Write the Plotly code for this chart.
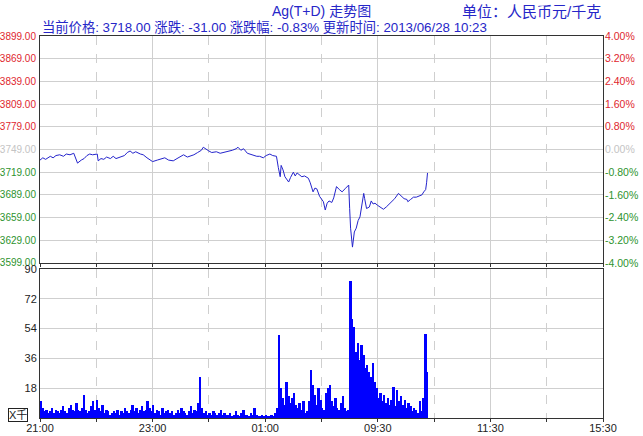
import plotly.graph_objects as go

# ---------------- data ----------------
title_text = "Ag(T+D) 走势图"
unit_text = "单位：人民币元/千克"
current_price = 3718.00
change = -31.00
change_pct = -0.83
update_time = "2013/06/28 10:23"
prev_close = 3749.0

# minutes since 21:00 in trading time (night 21:00-02:30, day 09:00-11:30, 13:30-15:30)
time_ticks = [0, 120, 240, 360, 480, 600]
time_labels = ["21:00", "23:00", "01:00", "09:30", "11:30", "15:30"]

price_minutes = [0, 3, 6, 11, 14, 17, 21, 25, 28, 32, 36, 38, 40, 44, 47, 50, 53, 56, 61, 62,
                 65, 68, 71, 75, 78, 81, 85, 90, 93, 96, 99, 102, 107, 110, 114, 117, 120, 125, 129, 133,
                 137, 142, 146, 150, 153, 157, 160, 164, 168, 172, 174, 177, 180, 183, 188, 192, 196, 200, 205, 209,
                 211, 214, 217, 221, 224, 227, 231, 234, 238, 241, 245, 248, 252, 254, 256, 257, 259, 261, 263, 265,
                 267, 270, 272, 274, 276, 279, 282, 286, 288, 291, 293, 295, 298, 300, 302, 304, 306, 308, 311, 313,
                 316, 319, 322, 325, 329, 330, 331, 333, 335, 337, 339, 341, 343, 345, 346, 348, 351, 353, 355, 357,
                 360, 363, 366, 369, 372, 375, 378, 382, 385, 388, 391, 392, 395, 398, 401, 404, 407, 409, 411, 412,
                 413]
price_values = [3735, 3738, 3736, 3740, 3738, 3741, 3742, 3740, 3743, 3742, 3744, 3738, 3731, 3735, 3737, 3741, 3743, 3742, 3743, 3734,
                3737, 3736, 3739, 3737, 3740, 3737, 3739, 3741, 3745, 3747, 3744, 3746, 3743, 3742, 3738, 3735, 3733, 3735, 3737, 3738,
                3735, 3734, 3737, 3740, 3742, 3739, 3740, 3742, 3745, 3748, 3752, 3749, 3747, 3745, 3746, 3744, 3745, 3746, 3748, 3750,
                3752, 3748, 3750, 3744, 3743, 3741, 3740, 3740, 3738, 3741, 3743, 3741, 3740, 3725, 3713, 3728, 3722, 3713, 3710, 3706,
                3712, 3719, 3714, 3718, 3716, 3713, 3714, 3711, 3705, 3693, 3698, 3697, 3687, 3684, 3680, 3669, 3678, 3681, 3679, 3685,
                3700, 3696, 3693, 3697, 3702, 3671, 3645, 3620, 3640, 3645, 3655, 3660, 3676, 3691, 3684, 3671, 3673, 3681, 3677, 3678,
                3675, 3672, 3670, 3673, 3677, 3680, 3684, 3691, 3688, 3684, 3683, 3680, 3683, 3686, 3686, 3688, 3689, 3693, 3696, 3705,
                3718]

# volume (thousand), one value per 2-minute bin starting at 21:00
volume_values = [
    10, 6, 4, 5, 3, 4, 6, 3, 5, 4,
    3, 5, 7, 4, 3, 6, 8, 5, 4, 9,
    5, 4, 6, 14, 5, 3, 4, 7, 10, 5,
    11, 6, 4, 8, 3, 5, 4, 2, 3, 4,
    3, 5, 2, 4, 3, 6, 4, 3, 5, 8,
    4, 6, 3, 5, 7, 4, 5, 10, 6, 4,
    8, 3, 5, 4, 2, 6, 3, 4, 5, 3,
    4, 2, 3, 5, 3, 6, 4, 3, 2, 4,
    7, 3, 5, 4, 9, 25, 6, 3, 4, 2,
    3, 2, 4, 3, 2, 3, 5, 2, 3, 2,
    2, 3, 1, 2, 4, 2, 1, 3, 5, 2,
    2, 1, 3, 2, 6, 2, 1, 1, 2, 1,
    2, 1, 1, 2, 1, 3,
    6, 50, 18, 12, 8, 22, 13, 9, 12, 15, 8, 6, 9, 5, 10, 3, 4,
    10, 29, 20, 14, 8, 18, 11, 6,
    5, 15, 18, 20, 10, 7, 12, 6, 5, 9, 13, 6, 4, 5,
    83, 60, 55, 40, 45, 35, 44, 38, 30, 32, 28, 25, 33, 22, 18,
    12, 15, 10, 14, 9, 12, 8, 11, 19, 7,
    17, 10, 13, 8, 11, 6, 9, 7, 4, 6,
    5, 3, 10, 4, 12, 51, 28,
]
volume_bin = 2
volume_minutes = [i * volume_bin for i in range(len(volume_values))]

price_ticks = [3599 + 30 * k for k in range(11)]
volume_ticks = [18, 36, 54, 72, 90]

# ---------------- styling helpers ----------------
RED = "#e0262e"
GREEN = "#2e932e"
GREY = "#c4c4c4"
BLUE_TXT = "#2626c8"
FONT = "Liberation Sans, Arial, Noto Sans CJK SC, sans-serif"


def colour_for(v):
    if v > prev_close:
        return RED
    if v < prev_close:
        return GREEN
    return GREY


left_text = [f'<span style="color:{colour_for(v)}">{v:.2f}</span>' for v in price_ticks]
pct_ticks = [(v - prev_close) / prev_close * 100 for v in price_ticks]
right_text = [f'<span style="color:{colour_for(v)}">{p:.2f}%</span>' for v, p in zip(price_ticks, pct_ticks)]

fig = go.Figure()

fig.add_trace(go.Scatter(x=price_minutes, y=price_values, mode="lines",
                         line=dict(color="#2424cc", width=1), xaxis="x", yaxis="y",
                         showlegend=False, hoverinfo="skip"))
fig.add_trace(go.Scatter(x=price_minutes, y=[(p - prev_close) / prev_close * 100 for p in price_values],
                         mode="lines", line=dict(width=0, color="rgba(0,0,0,0)"),
                         xaxis="x", yaxis="y3", showlegend=False, hoverinfo="skip"))
fig.add_trace(go.Bar(x=volume_minutes, y=volume_values, width=volume_bin, offset=0,
                     marker=dict(color="#0000ff", line=dict(width=0)),
                     xaxis="x2", yaxis="y2", showlegend=False, hoverinfo="skip"))

grid_c = "#cfcfcf"
axis_line = "#333333"
xcommon = dict(range=[0, 600], tickvals=time_ticks, showgrid=True, gridcolor=grid_c, gridwidth=1,
               showline=True, linecolor=axis_line, linewidth=1, mirror=True, zeroline=False,
               automargin=False,
               minor=dict(dtick=60, tick0=0, showgrid=True, gridcolor=grid_c, griddash="dash",
                          ticks="outside", ticklen=3, tickcolor=axis_line))

pct_min = (price_ticks[0] - prev_close) / prev_close * 100
pct_max = (price_ticks[-1] - prev_close) / prev_close * 100

fig.update_layout(
    width=643, height=436,
    margin=dict(l=40, r=40, t=36, b=18, autoexpand=False),
    paper_bgcolor="white", plot_bgcolor="white",
    font=dict(family=FONT, size=11, color="#222222"),
    xaxis=dict(**xcommon, domain=[0, 1], anchor="y", showticklabels=False, matches="x2"),
    xaxis2=dict(**xcommon, domain=[0, 1], anchor="y2", ticktext=time_labels, showticklabels=True,
                ticks="", tickfont=dict(size=11, color="#222222")),
    yaxis=dict(domain=[0.4058, 1], range=[price_ticks[0], price_ticks[-1]], tickvals=price_ticks,
               ticktext=left_text, showgrid=True, gridcolor=grid_c, showline=True, linecolor=axis_line,
               linewidth=1, mirror=True, zeroline=False, ticks="", tickfont=dict(size=10),
               automargin=False, ticklabelstandoff=1),
    yaxis3=dict(overlaying="y", side="right", anchor="x", range=[pct_min, pct_max], tickvals=pct_ticks,
                ticktext=right_text, showgrid=False, zeroline=False, ticks="", tickfont=dict(size=10.5),
                automargin=False, ticklabelstandoff=1),
    yaxis2=dict(domain=[0, 0.390], range=[0, 90], tickvals=volume_ticks, showgrid=True, gridcolor=grid_c,
                showline=True, linecolor=axis_line, linewidth=1, mirror=True, zeroline=False, ticks="",
                tickfont=dict(size=11, color="#222222"), automargin=False),
    bargap=0,
)

# previous-close reference line (dashed)
fig.add_shape(type="line", xref="x", yref="y", x0=0, x1=600, y0=prev_close, y1=prev_close,
              line=dict(color="white", width=2), layer="below")
fig.add_shape(type="line", xref="x", yref="y", x0=0, x1=600, y0=prev_close, y1=prev_close,
              line=dict(color="#c4c4c4", width=1, dash="dash"), layer="below")

fig.add_annotation(text=title_text, xref="paper", yref="paper", x=0.5, y=1, yshift=25,
                   xanchor="center", yanchor="middle", showarrow=False,
                   font=dict(size=14, color=BLUE_TXT, family=FONT))
fig.add_annotation(text=unit_text, xref="paper", yref="paper", x=1, y=1, yshift=25,
                   xanchor="right", yanchor="middle", showarrow=False,
                   font=dict(size=15, color=BLUE_TXT, family=FONT))
header = (f"当前价格: {current_price:.2f} 涨跌: {change:.2f} 涨跌幅: {change_pct:.2f}% "
          f"更新时间: {update_time}")
fig.add_annotation(text=header, xref="paper", yref="paper", x=0, y=1, yshift=9,
                   xanchor="left", yanchor="middle", showarrow=False,
                   font=dict(size=13.3, color=BLUE_TXT, family=FONT))
fig.add_annotation(text="X千", xref="paper", yref="paper", x=0, y=0, xshift=-22, yshift=3,
                   xanchor="center", yanchor="middle", showarrow=False,
                   bordercolor="#222222", borderwidth=1, borderpad=0,
                   font=dict(size=11, color="#222222", family=FONT))

fig.write_html("out.html", config={"displayModeBar": False},
               post_script="document.body.style.margin='0';")
